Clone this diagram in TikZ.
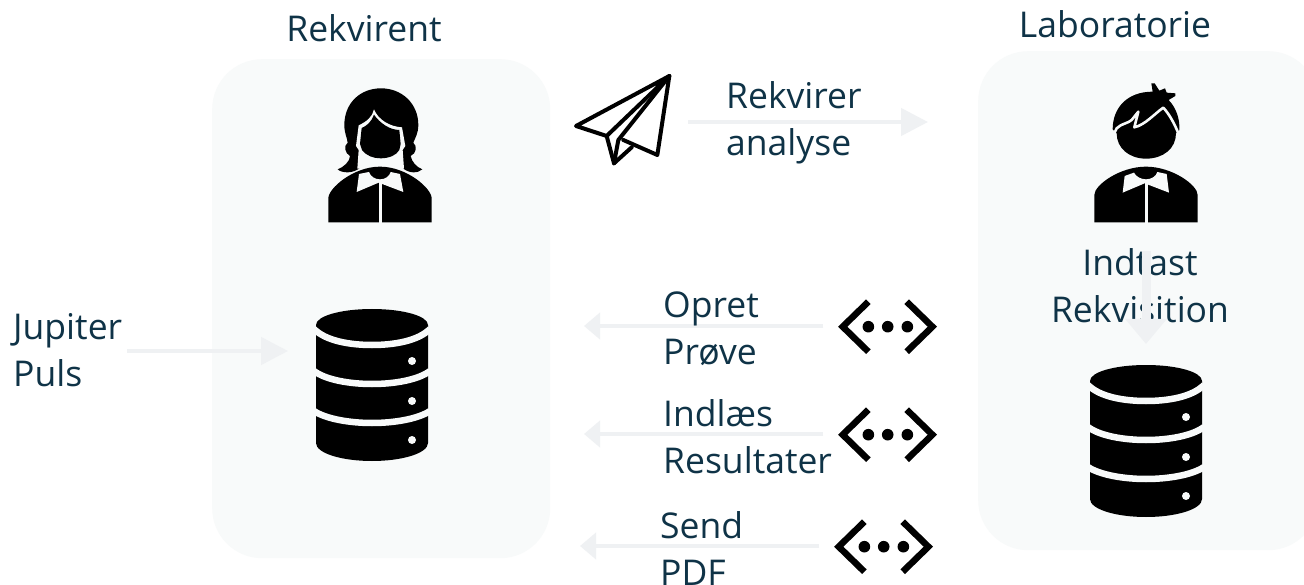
\documentclass[tikz,border=0pt]{standalone}
\usepackage{fontspec}
\setmainfont{Open Sans}
\usetikzlibrary{arrows.meta}
\definecolor{panelc}{HTML}{F8FAFA}
\definecolor{arrowc}{HTML}{EFF1F3}
\definecolor{textc}{HTML}{0F3347}
\tikzset{
  panelbox/.style={fill=panelc,draw=none,rounded corners=50pt},
  flowarrow/.style={draw=arrowc,line width=4.5pt,-{Triangle[length=16pt,width=26pt]}},
  longarrow/.style={draw=arrowc,line width=4.5pt,-{Triangle[length=27pt,width=27pt]}},
  bigarrow/.style={draw=arrowc,line width=9pt,-{Triangle[length=25pt,width=40pt]}},
  lbl/.style={text=textc,font=\fontsize{35.5}{47}\selectfont,inner sep=0pt,align=left,anchor=west},
  lblc/.style={text=textc,font=\fontsize{35.5}{47}\selectfont,inner sep=0pt,align=center},
  dbicon/.pic={
    \begin{scope}[shift={(-372,-385)}]
    \fill[black] (316,325) .. controls (316,316) and (341,309) .. (372,309) .. controls (403,309) and (428,316) .. (428,325)
      -- (428,443) .. controls (428,453) and (403,461) .. (372,461) .. controls (341,461) and (316,453) .. (316,443) -- cycle;
    \foreach \a/\b in {330/345,372/384,412/423}{
      \draw[panelc,line width=6.5pt] (314,\a-1) .. controls (326,\b-4) and (350,\b) .. (372,\b) .. controls (394,\b) and (418,\b-4) .. (430,\a-1);
    }
    \foreach \d in {361,401,440}{\fill[panelc] (412,\d) circle (4pt);}
    \end{scope}
  },
  codeicon/.pic={
    \begin{scope}[x=0.3333pt,y=-0.3333pt,shift={(-203,-110)}]
    \draw[black,line width=6.5pt,miter limit=10] (145,35) -- (68,110) -- (145,185);
    \draw[black,line width=6.5pt,miter limit=10] (260,35) -- (337,110) -- (260,185);
    \foreach \c in {145,203,262}{\fill[black] (\c,110) circle (5.8pt);}
    \end{scope}
  },
  planeicon/.pic={
    \begin{scope}[x=0.3333pt,y=-0.3333pt,line width=4pt,line join=round,line cap=round]
    \draw (328,48) -- (48,198) -- (140,228) -- cycle;
    \draw (140,228) -- (162,310) -- (215,262);
    \draw (328,48) -- (175,240) -- (162,310);
    \draw (328,48) -- (292,285) -- (190,240);
    \end{scope}
  },
  womanicon/.pic={
    \begin{scope}[x=0.3333pt,y=-0.3333pt]
    \fill[black] (243,55) .. controls (180,55) and (133,100) .. (133,165) .. controls (133,190) and (142,205) .. (143,218)
      .. controls (130,228) and (135,250) .. (150,258) .. controls (150,275) and (130,292) .. (113,298)
      .. controls (125,310) and (160,312) .. (182,292) -- (306,292)
      .. controls (325,312) and (355,310) .. (367,298) .. controls (350,292) and (335,275) .. (332,258)
      .. controls (350,250) and (352,228) .. (340,218) .. controls (345,205) and (355,190) .. (355,165)
      .. controls (355,100) and (305,55) .. (243,55) -- cycle;
    \fill[panelc] (222,118) .. controls (218,140) and (200,155) .. (176,166) -- (168,228) -- (176,240) -- (172,296) -- (312,296)
      -- (308,240) -- (316,228) -- (306,172) .. controls (270,170) and (235,150) .. (222,118) -- cycle;
    \fill[black] (222,134) .. controls (215,155) and (200,168) .. (185,174) -- (180,222) -- (186,240) .. controls (200,258) and (220,265) .. (242,265)
      .. controls (268,265) and (290,255) .. (298,240) -- (302,222) -- (298,180) .. controls (270,180) and (240,160) .. (222,134) -- cycle;
    \fill[black] (85,457) -- (85,385) .. controls (85,355) and (160,290) .. (240,290) .. controls (320,290) and (395,355) .. (395,385) -- (395,457) -- cycle;
    \fill[panelc] (177,312) -- (170,366) -- (236,338) -- (310,366) -- (300,312) -- (272,306) .. controls (268,320) and (255,328) .. (240,328) .. controls (225,328) and (212,320) .. (207,306) -- cycle;
    \fill[panelc] (236,338) rectangle (245,458);
    \end{scope}
  },
  manicon/.pic={
    \begin{scope}[x=0.3333pt,y=-0.3333pt]
    \fill[black] (128,178) .. controls (128,115) and (170,65) .. (248,65) -- (244,40) -- (254,40) -- (268,62) -- (285,55) -- (290,68) -- (316,70) -- (316,78) -- (296,90)
      .. controls (320,115) and (330,150) .. (328,180) -- (318,190)
      .. controls (318,235) and (280,266) .. (228,266) .. controls (178,266) and (140,235) .. (140,190) -- cycle;
    \draw[panelc,line width=2.6pt,line join=round] (130,195) -- (140,175) .. controls (155,160) and (175,160) .. (185,150) -- (205,125) -- (193,172) .. controls (225,165) and (255,130) .. (280,113) .. controls (300,135) and (315,165) .. (325,190);
    \fill[black] (73,457) -- (73,375) .. controls (73,345) and (150,290) .. (228,290) .. controls (306,290) and (383,345) .. (383,375) -- (383,457) -- cycle;
    \fill[panelc] (164,318) -- (158,368) -- (224,340) -- (297,368) -- (290,312) -- (262,306) .. controls (258,320) and (243,328) .. (228,328) .. controls (213,328) and (198,320) .. (192,308) -- cycle;
    \fill[panelc] (224,340) rectangle (233,458);
    \end{scope}
  },
}
\begin{document}
\begin{tikzpicture}[x=1pt,y=-1pt]
\useasboundingbox (0,0) rectangle (1304,585);
\clip (0,0) rectangle (1304,585);
\fill[white] (0,0) rectangle (1304,585);
\node[panelbox,minimum width=338pt,minimum height=499pt,anchor=north west] (left) at (212,59) {};
\node[panelbox,minimum width=340pt,minimum height=499pt,anchor=north west] (right) at (978,51) {};
% connector ends
\coordinate (a1s) at (688,122); \coordinate (a1e) at (928,122);
\coordinate (a2s) at (823,326); \coordinate (a2e) at (584,326);
\coordinate (a3s) at (823,434); \coordinate (a3e) at (584,434);
\coordinate (a4s) at (819,546); \coordinate (a4e) at (580,546);
\coordinate (a5s) at (127,351); \coordinate (a5e) at (288,351);
\coordinate (a6s) at (1146,251); \coordinate (a6e) at (1146,344);
\foreach \s/\e in {a2s/a2e,a3s/a3e,a4s/a4e}{\draw[flowarrow] (\s) -- (\e);}
\foreach \s/\e in {a1s/a1e,a5s/a5e}{\draw[longarrow] (\s) -- (\e);}
\pic at (300,70) {womanicon};
\pic at (1070,70) {manicon};
\pic at (560,60) {planeicon};
\pic at (372,385) {dbicon};
\pic at (1146,441) {dbicon};
\pic at (887.7,326.7) {codeicon};
\pic at (887.7,434.7) {codeicon};
\pic at (883.7,546.7) {codeicon};
\node[lblc] (t1) at (364,28) {Rekvirent};
\node[lblc] (t2) at (1115,24) {Laboratorie};
\node[lbl] (t3) at (726,122.5) {Rekvirer\\analyse};
\node[lbl] (t4) at (13,350) {Jupiter\\Puls};
\node[lbl] (t5) at (663,329) {Opret\\Prøve};
\node[lbl] (t6) at (663,437) {Indlæs\\Resultater};
\node[lbl] (t7) at (660,549) {Send\\PDF};
\node[lblc] (t8) at (1140,286) {Indtast\\Rekvisition};
\draw[bigarrow] (a6s) -- (a6e);
\end{tikzpicture}
\end{document}
